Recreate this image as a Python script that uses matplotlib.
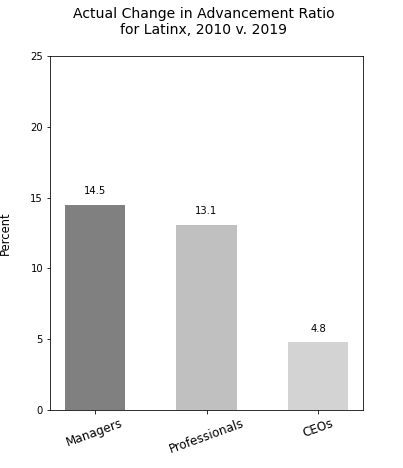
import matplotlib
matplotlib.use("Agg")
import matplotlib.pyplot as plt

categories = ["Managers", "Professionals", "CEOs"]
values = [14.5, 13.1, 4.8]
colors = ["#808080", "#c0c0c0", "#d3d3d3"]

fig = plt.figure(figsize=(403/72, 468/72), dpi=72)
ax = fig.add_axes([50/403, 1-410/468, 313/403, 354/468])
bars = ax.bar(categories, values, width=0.54, color=colors)
for b, v in zip(bars, values):
    ax.text(b.get_x() + b.get_width()/2, v + 0.6, f"{v}", ha="center", va="bottom", fontsize=10)
ax.set_xlim(-0.4, 2.4)
ax.set_ylim(0, 25)
ax.set_yticks([0, 5, 10, 15, 20, 25])
ax.tick_params(axis="y", labelsize=10)
ax.tick_params(axis="x", labelsize=12, labelrotation=20)
ax.set_ylabel("Percent", fontsize=11.5, labelpad=18)
fig.suptitle("Actual Change in Advancement Ratio\nfor Latinx, 2010 v. 2019", fontsize=14, x=0.505, y=0.985)
fig.savefig("out.png", dpi=72)
